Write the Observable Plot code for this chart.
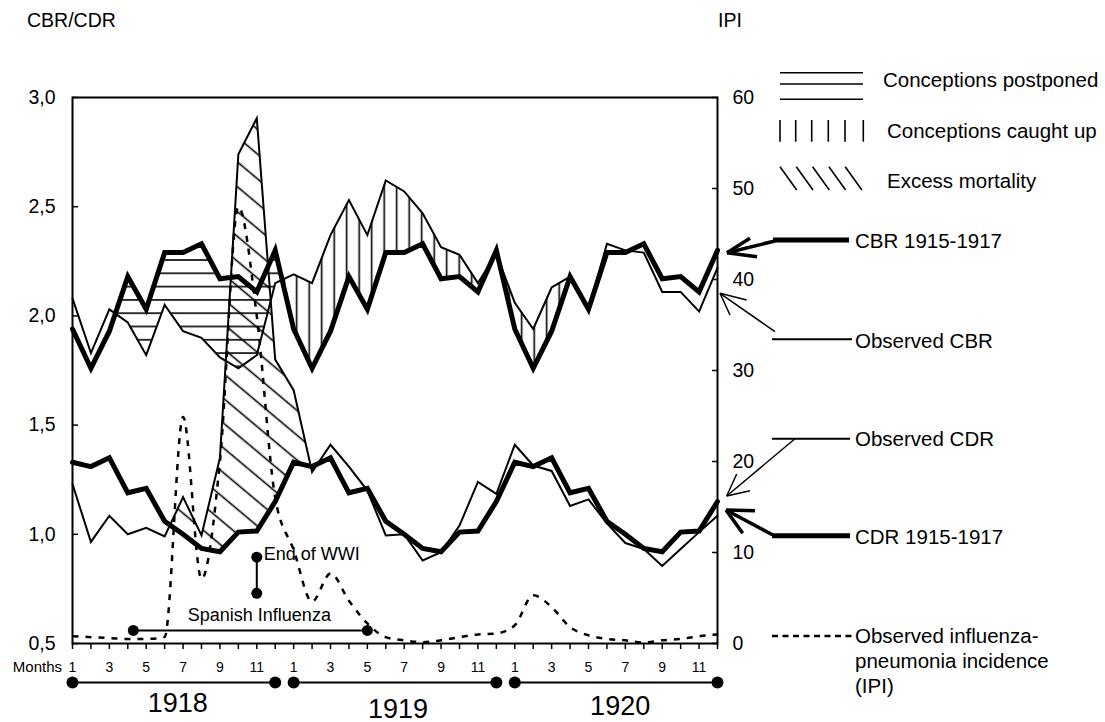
<!DOCTYPE html>
<html>
<head>
<meta charset="utf-8">
<script src="https://cdn.jsdelivr.net/npm/d3@7"></script>
<script src="https://cdn.jsdelivr.net/npm/@observablehq/plot@0.6"></script>
<style>
  html, body { margin: 0; padding: 0; background: #fff; }
  #chart { width: 1105px; height: 722px; }
</style>
</head>
<body>
<div id="chart"></div>
<script>
// ---------- data ----------
const months = d3.range(1, 37); // Jan 1918 .. Dec 1920
const cbrObserved = [2.08, 1.83, 2.03, 1.97, 1.82, 2.05, 1.93, 1.90, 1.81, 1.76, 1.82, 2.15,
                     2.19, 2.15, 2.37, 2.53, 2.37, 2.62, 2.57, 2.47, 2.315, 2.28, 2.15, 2.285,
                     2.06, 1.94, 2.13, 2.18, 2.03, 2.33, 2.30, 2.29, 2.11, 2.11, 2.02, 2.22];
const cbrBaseline = [1.94, 1.76, 1.93, 2.18, 2.03, 2.29, 2.29, 2.33, 2.17, 2.18, 2.11, 2.30,
                     1.94, 1.76, 1.93, 2.18, 2.03, 2.29, 2.29, 2.33, 2.17, 2.18, 2.11, 2.30,
                     1.94, 1.76, 1.93, 2.18, 2.03, 2.29, 2.29, 2.33, 2.17, 2.18, 2.11, 2.30];
const cdrObserved = [1.23, 0.965, 1.085, 1.00, 1.03, 0.99, 1.17, 0.995, 1.35, 2.74, 2.905, 1.80,
                     1.66, 1.285, 1.41, 1.31, 1.20, 0.995, 1.00, 0.88, 0.918, 1.04, 1.24, 1.185,
                     1.41, 1.315, 1.29, 1.13, 1.16, 1.05, 0.96, 0.933, 0.855, 0.933, 1.01, 1.085];
const cdrBaseline = [1.33, 1.31, 1.35, 1.19, 1.21, 1.06, 1.00, 0.935, 0.92, 1.01, 1.015, 1.15,
                     1.33, 1.31, 1.35, 1.19, 1.21, 1.06, 1.00, 0.935, 0.92, 1.01, 1.015, 1.15,
                     1.33, 1.31, 1.35, 1.19, 1.21, 1.06, 1.00, 0.935, 0.92, 1.01, 1.015, 1.15];
const ipiObserved = [0.8, 0.7, 0.6, 0.5, 0.5, 0.7, 24.9, 7.1, 20, 48, 36, 16,
                     10.3, 4.6, 7.7, 4.7, 2.2, 0.7, 0.35, 0.15, 0.35, 0.7, 1.0, 1.1,
                     2.0, 5.3, 4.0, 1.8, 0.9, 0.5, 0.35, 0.1, 0.35, 0.5, 0.8, 1.0];
const leftTicks = [0.5, 1.0, 1.5, 2.0, 2.5, 3.0];
const rightTicks = [0, 10, 20, 30, 40, 50, 60];
const years = [
  {year: "1918", start: 1, end: 12},
  {year: "1919", start: 13, end: 24},
  {year: "1920", start: 25, end: 36}
];
// hatched periods (month index ranges)
const postponedRange = [3, 13];
const caughtUpRange = [12, 28];
const excessRange = [6, 14];
// annotations
const endOfWar = [{m: 11, from: 0.73, to: 0.895}];
const influenza = [{from: 4.3, to: 17, y: 0.56}];

// ---------- helpers ----------
const ipiMax = rightTicks[rightTicks.length - 1];
const yMin = leftTicks[0], yMax = leftTicks[leftTicks.length - 1];
const ipiToLeft = v => yMin + v * (yMax - yMin) / ipiMax;
const leftToIpi = v => Math.round((v - yMin) * ipiMax / (yMax - yMin));

// area between lo and hi where hi > lo (crossings inserted)
function positivePart(xs, lo, hi, [from, to]) {
  const out = [];
  for (let i = from; i <= to; i++) {
    const k = i - 1;
    const d = hi[k] - lo[k];
    out.push({x: xs[k], y1: lo[k], y2: Math.max(lo[k], hi[k])});
    if (i < to) {
      const d2 = hi[k + 1] - lo[k + 1];
      if (d !== 0 && d2 !== 0 && (d > 0) !== (d2 > 0)) {
        const t = d / (d - d2);
        const yc = lo[k] + t * (lo[k + 1] - lo[k]);
        out.push({x: xs[k] + t * (xs[k + 1] - xs[k]), y1: yc, y2: yc});
      }
    }
  }
  return out;
}

const rows = months.map((m, i) => ({
  m, cbrObs: cbrObserved[i], cbrBase: cbrBaseline[i],
  cdrObs: cdrObserved[i], cdrBase: cdrBaseline[i], ipi: ipiToLeft(ipiObserved[i])
}));
const yearEnds = years.flatMap(d => [{m: d.start}, {m: d.end}]);
const comma = d => d.toFixed(1).replace(".", ",");
const FONT = "'Liberation Sans', Arial, Helvetica, sans-serif";

const area = {x: "x", y1: "y1", y2: "y2"};
const svg = Plot.plot({
  width: 1105,
  height: 722,
  marginLeft: 72,
  marginRight: 388,
  marginTop: 97,
  marginBottom: 79,
  x: {domain: [1, 36], label: null},
  y: {domain: [yMin, yMax], label: null},
  style: {fontFamily: FONT, fontSize: "19.5px", color: "black", background: "white", overflow: "visible"},
  marks: [
    Plot.areaY(positivePart(months, cbrObserved, cbrBaseline, postponedRange), {...area, fill: "url(#hatch-h)"}),
    Plot.areaY(positivePart(months, cbrBaseline, cbrObserved, caughtUpRange), {...area, fill: "url(#hatch-v)"}),
    Plot.areaY(positivePart(months, cdrBaseline, cdrObserved, excessRange), {...area, fill: "url(#hatch-d)"}),
    Plot.line(rows, {x: "m", y: "ipi", stroke: "black", strokeWidth: 2.5, strokeDasharray: "6,7",
      strokeLinecap: "butt", curve: "monotone-x"}),
    Plot.line(rows, {x: "m", y: "cbrBase", stroke: "black", strokeWidth: 5, strokeLinejoin: "miter", strokeMiterlimit: 4}),
    Plot.line(rows, {x: "m", y: "cdrBase", stroke: "black", strokeWidth: 5, strokeLinejoin: "miter", strokeMiterlimit: 4}),
    Plot.line(rows, {x: "m", y: "cbrObs", stroke: "black", strokeWidth: 2, strokeLinejoin: "miter", strokeMiterlimit: 4}),
    Plot.line(rows, {x: "m", y: "cdrObs", stroke: "black", strokeWidth: 2, strokeLinejoin: "miter", strokeMiterlimit: 4}),
    // End of WWI
    Plot.link(endOfWar, {x1: "m", x2: "m", y1: "from", y2: "to", stroke: "black", strokeWidth: 2}),
    Plot.dot(endOfWar.flatMap(d => [{m: d.m, y: d.from}, {m: d.m, y: d.to}]), {x: "m", y: "y", r: 5.5, fill: "black"}),
    Plot.text(endOfWar, {x: "m", y: "to", text: () => "End of WWI", textAnchor: "start", dx: 7, dy: -3, fontSize: 18}),
    // Spanish influenza
    Plot.link(influenza, {x1: "from", x2: "to", y1: "y", y2: "y", stroke: "black", strokeWidth: 2}),
    Plot.dot(influenza.flatMap(d => [{m: d.from, y: d.y}, {m: d.to, y: d.y}]), {x: "m", y: "y", r: 5.5, fill: "black"}),
    Plot.text(influenza, {x: d => (d.from + d.to) / 2, y: "y", text: () => "Spanish Influenza", dx: 9, dy: -15, fontSize: 18}),
    // frame & axes
    Plot.frame({stroke: "black", strokeWidth: 2}),
    Plot.axisY(leftTicks, {anchor: "left", tickSize: 6, dx: 6, tickFormat: () => "", strokeWidth: 1.5}),
    Plot.axisY(leftTicks, {anchor: "left", tickSize: 0, tickPadding: 17, tickFormat: comma, fontSize: 19.5}),
    Plot.axisY(rightTicks.map(ipiToLeft), {anchor: "right", tickSize: 6, dx: -6, tickFormat: () => "", strokeWidth: 1.5}),
    Plot.axisY(rightTicks.map(ipiToLeft), {anchor: "right", tickSize: 0, tickPadding: 15, tickFormat: leftToIpi, fontSize: 19.5}),
    Plot.axisX(months, {anchor: "bottom", tickSize: 6, tickPadding: 13, strokeWidth: 1.5, fontSize: 14,
      tickFormat: m => ((m - 1) % 12) % 2 === 0 ? String((m - 1) % 12 + 1) : ""}),
    // year bars
    Plot.link(years, {x1: "start", x2: "end", y1: yMin, y2: yMin, dy: 39, stroke: "black", strokeWidth: 2}),
    Plot.dot(yearEnds, {x: "m", y: yMin, dy: 39, r: 6, fill: "black"}),
    Plot.text(years.filter(d => d.year === "1918"), {x: d => (d.start + d.end) / 2, y: yMin, text: "year", dx: 4, dy: 60, fontSize: 27}),
    Plot.text(years.filter(d => d.year === "1919"), {x: d => (d.start + d.end) / 2, y: yMin, text: "year", dx: 3, dy: 66, fontSize: 27}),
    Plot.text(years.filter(d => d.year === "1920"), {x: d => (d.start + d.end) / 2, y: yMin, text: "year", dx: 4, dy: 63, fontSize: 27})
  ]
});

// ---------- hatch patterns ----------
const s = d3.select(svg);
const defs = s.insert("defs", ":first-child");
const ph = defs.append("pattern").attr("id", "hatch-h").attr("patternUnits", "userSpaceOnUse")
  .attr("width", 20).attr("height", 13.3).attr("x", 0).attr("y", 260 - 6.65);
ph.append("line").attr("x1", 0).attr("x2", 20).attr("y1", 6.65).attr("y2", 6.65).attr("stroke", "black").attr("stroke-width", 1.6);
const pv = defs.append("pattern").attr("id", "hatch-v").attr("patternUnits", "userSpaceOnUse")
  .attr("width", 12.5).attr("height", 20).attr("x", 296.7 - 6.25).attr("y", 0);
pv.append("line").attr("x1", 6.25).attr("x2", 6.25).attr("y1", 0).attr("y2", 20).attr("stroke", "black").attr("stroke-width", 1.6);
const pd = defs.append("pattern").attr("id", "hatch-d").attr("patternUnits", "userSpaceOnUse")
  .attr("width", 19).attr("height", 19).attr("patternTransform", "rotate(40)");
pd.append("line").attr("x1", 0).attr("x2", 19).attr("y1", 9.5).attr("y2", 9.5).attr("stroke", "black").attr("stroke-width", 1.6);

// ---------- titles ----------
const txt = (x, y, t, size, anchor = "start") =>
  s.append("text").attr("x", x).attr("y", y).attr("font-family", FONT).attr("font-size", size)
   .attr("text-anchor", anchor).attr("fill", "black").text(t);
txt(27, 27, "CBR/CDR", 19.5);
txt(718, 27, "IPI", 19.5);
txt(62, 672, "Months", 15, "end");

// ---------- legend ----------
const lg = s.append("g").attr("fill", "none").attr("stroke", "black");
const seg = (x1, y1, x2, y2, w, dash) => {
  const l = lg.append("line").attr("x1", x1).attr("y1", y1).attr("x2", x2).attr("y2", y2).attr("stroke-width", w);
  if (dash) l.attr("stroke-dasharray", dash);
  return l;
};
[72.7, 84, 99.3].forEach(y => seg(780, y, 863, y, 1.6));
[780, 795.7, 811.7, 828.3, 845, 863.3].forEach(x => seg(x, 120, x, 141.7, 1.6));
d3.range(5).forEach(k => seg(780 + k * 16.3, 166.7, 796.7 + k * 16.3, 190, 1.6));
// CBR 1915-1917
seg(773, 240, 849, 240, 5);
seg(775, 241, 727, 252.7, 3.5);
seg(727, 252.7, 750, 238.3, 3.5);
seg(727, 252.7, 757, 256.7, 3.5);
// Observed CBR
seg(772, 339.3, 852, 339.3, 2);
seg(775, 331.7, 720, 293.3, 1.5);
seg(720, 293.3, 746.7, 300, 1.5);
seg(720, 293.3, 730, 315, 1.5);
// Observed CDR
seg(772, 438.7, 850, 438.7, 2);
seg(795, 438.7, 726.7, 496, 1.5);
seg(726.7, 496, 736.7, 474, 1.5);
seg(726.7, 496, 750, 490.7, 1.5);
// CDR 1915-1917
seg(772, 535.7, 850, 535.7, 5);
seg(773, 535, 726, 510, 3.5);
seg(726, 510, 755, 510.7, 3.5);
seg(726, 510, 742.7, 533.3, 3.5);
// IPI
seg(772, 636, 852, 636, 2.5, "6,4.5");

txt(883, 87.3, "Conceptions postponed", 20.5);
txt(887, 138.3, "Conceptions caught up", 20.5);
txt(887, 188.3, "Excess mortality", 20.5);
txt(855, 248.3, "CBR 1915-1917", 20.5);
txt(855, 348.3, "Observed CBR", 20.5);
txt(855, 446, "Observed CDR", 20.5);
txt(855, 544.3, "CDR 1915-1917", 20.5);
txt(855, 643.3, "Observed influenza-", 20.5);
txt(855, 667.8, "pneumonia incidence", 20.5);
txt(855, 692.7, "(IPI)", 20.5);

document.getElementById("chart").appendChild(svg);
</script>
</body>
</html>
